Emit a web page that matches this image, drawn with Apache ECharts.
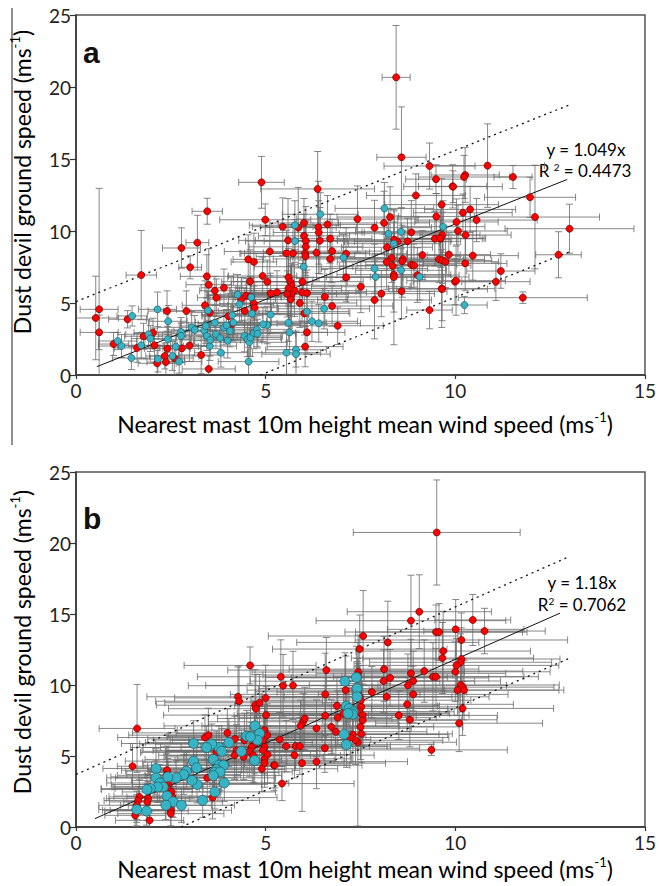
<!DOCTYPE html>
<html>
<head>
<meta charset="utf-8">
<script src="https://cdn.jsdelivr.net/npm/echarts@6/dist/echarts.min.js"></script>
<style>
html,body{margin:0;padding:0;background:#fff;}
#chart{width:659px;height:886px;}
</style>
</head>
<body>
<div id="chart"></div>
<script>
// ---------- DATA: [x, y, xError, yError] ----------
const aRed = [
[0.61,4.56,0.5,8.4],[0.52,3.96,0.6,2.9],[0.61,2.96,0.5,1.2],[1.36,3.87,0.5,0.6],[0.99,2.15,0.4,0.8],
[1.61,1.88,0.6,1.0],[1.72,6.94,0.4,3.1],[1.78,2.69,0.5,0.9],[2.03,2.94,0.5,1.0],[2.07,2.06,0.6,1.2],
[2.14,0.81,0.5,0.9],[2.34,1.32,0.4,0.9],[2.37,0.9,0.5,1.1],[2.4,4.44,0.5,1.4],[2.41,1.83,0.6,1.0],
[2.59,1.18,0.5,1.2],[2.78,8.82,0.5,1.4],[2.79,1.85,0.5,1.0],[2.91,4.44,0.6,1.4],[2.99,2.04,0.5,1.1],
[3.01,7.48,0.3,0.8],[3.2,9.19,0.3,1.9],[3.3,1.39,0.6,1.3],[3.46,11.37,0.4,0.9],[3.45,6.85,0.7,1.5],
[3.5,6.27,0.6,2.5],[3.5,0.42,0.7,0.9],[3.4,4.84,0.6,1.7],[3.53,4.33,0.5,1.2],[3.66,5.85,0.4,1.0],
[3.7,5.37,0.5,1.3],[3.9,6.06,0.6,1.3],[4.02,4.08,0.7,1.6],[4.12,3.56,0.9,1.2],[4.36,5.26,0.9,1.5],
[4.49,5.51,1.0,1.2],[4.6,5.44,0.8,1.4],[4.45,4.44,0.7,1.6],[4.69,4.97,0.9,1.2],[4.71,4.67,0.6,1.8],
[4.59,6.5,0.5,2.2],[4.69,7.85,0.6,2.0],[4.54,8.03,0.4,1.7],[5.04,6.48,1.2,1.5],[5.11,8.58,1.2,1.7],
[4.99,10.78,1.2,1.1],[5.13,5.67,1.0,1.4],[4.92,6.88,0.9,1.3],[4.89,13.38,0.6,1.8],[5.45,10.3,0.8,2.0],
[5.86,10.23,1.0,2.8],[6.01,10.56,0.9,1.7],[6.01,9.66,1.2,1.5],[6.37,12.92,1.5,2.6],[6.39,10.25,1.0,3.2],
[6.4,9.9,1.2,2.2],[6.63,10.46,1.3,2.0],[5.59,9.35,1.3,2.9],[5.72,8.45,1.4,2.0],[5.55,8.45,1.2,1.6],
[6.06,9.3,1.1,2.4],[6.06,8.9,1.5,1.8],[6.04,8.45,1.6,2.2],[6.05,8.24,1.3,1.5],[6.34,8.49,1.4,1.9],
[6.43,9.33,1.7,2.3],[6.7,9.47,1.1,1.7],[6.7,8.06,1.5,1.6],[6.75,8.6,1.3,2.2],[7.12,8.42,1.6,1.8],
[5.6,6.78,1.6,2.0],[5.65,6.48,1.5,1.7],[5.68,6.23,1.8,1.5],[5.6,6.0,1.4,2.6],[5.76,5.86,1.7,1.8],
[5.68,5.58,1.5,2.0],[5.57,5.63,1.3,1.6],[5.66,5.25,1.5,2.3],[5.97,6.48,1.6,1.5],[5.96,5.74,1.7,2.0],
[6.09,5.69,1.4,1.6],[5.3,5.74,1.2,1.5],[5.9,5.0,1.5,1.7],[6.56,5.42,1.5,1.9],[6.75,4.79,1.6,1.4],
[6.9,3.42,1.2,1.3],[6.09,2.96,1.0,1.5],[6.04,1.97,1.0,1.4],[6.02,4.28,1.2,1.5],[7.42,10.83,1.6,2.3],
[7.87,10.23,1.5,1.9],[8.12,10.56,1.2,2.2],[8.28,10.97,1.4,2.1],[8.58,15.12,0.65,3.5],[8.44,20.67,0.37,3.6],
[8.96,12.47,1.3,1.5],[9.32,14.51,1.2,1.6],[9.49,13.6,0.8,1.0],[9.64,11.83,1.5,1.8],[9.5,11.0,1.0,1.6],
[9.93,13.1,0.9,1.5],[8.39,9.4,1.5,2.0],[8.2,8.87,1.2,1.6],[8.48,9.25,1.4,1.8],[8.84,9.91,1.3,2.2],
[8.32,8.13,1.5,1.7],[8.19,7.85,1.3,1.9],[8.62,8.05,1.6,2.0],[8.35,7.57,1.4,1.8],[8.84,7.66,1.2,1.6],
[8.91,7.6,1.5,1.5],[9.13,8.33,1.0,1.7],[9.46,9.47,1.3,1.9],[9.61,9.47,1.1,2.0],[9.57,8.03,1.2,1.6],
[9.66,7.96,1.3,1.6],[9.83,8.36,1.1,1.5],[8.38,6.97,1.5,2.6],[8.38,6.8,1.3,4.7],[8.05,5.65,1.4,1.6],
[7.87,5.21,1.5,2.7],[7.51,6.13,1.3,1.8],[7.12,6.78,1.5,1.7],[8.58,5.81,1.2,1.9],[9.32,4.51,0.6,1.3],
[9.64,6.0,1.4,2.7],[9.99,6.48,1.1,1.6],[10.85,14.54,1.5,2.9],[11.52,13.75,0.5,0.8],[11.97,12.34,1.2,1.4],
[12.1,10.97,1.7,3.6],[13.01,10.16,1.7,1.7],[12.72,8.35,0.6,1.6],[11.78,5.37,1.7,0.4],[11.2,7.22,0.9,1.2],
[11.07,6.48,0.9,1.3],[10.26,13.89,0.9,1.9],[10.23,13.75,1.2,1.5],[9.94,13.08,1.3,1.1],[10.2,11.27,1.3,1.3],
[10.39,11.5,1.2,1.6],[10.56,10.76,1.6,1.5],[10.03,10.63,1.1,1.6],[10.07,10.0,1.3,1.8],[10.27,9.72,1.2,1.6],
[9.65,9.72,1.0,1.6],[9.6,9.5,1.2,1.3],[8.74,9.28,1.4,1.6],[10.46,8.29,1.2,1.7],[9.74,7.87,1.4,1.8],
[10.26,7.75,1.1,1.9],[10.02,6.55,1.3,2.4],[9.65,5.97,1.2,2.2],[9.0,6.94,1.1,1.9],[8.6,7.9,1.5,2.5]
];
const aCyan = [
[1.48,4.1,0.4,0.7],[1.1,2.36,0.5,0.6],[1.2,2.01,0.6,0.8],[1.46,1.18,0.5,0.8],[1.72,2.06,0.6,0.9],
[1.91,2.83,0.6,1.0],[1.96,2.53,0.5,0.9],[2.15,4.56,0.5,1.2],[2.16,1.11,0.7,0.9],[2.42,2.48,0.6,0.9],
[2.43,3.73,0.5,1.1],[2.63,1.97,0.6,0.9],[2.54,1.32,0.7,1.0],[2.72,0.93,0.6,0.8],[2.77,2.99,0.7,1.0],
[2.77,2.71,0.6,0.9],[3.05,3.31,0.9,1.1],[3.13,3.13,0.7,1.0],[3.38,3.08,0.8,1.1],[3.42,3.4,0.7,1.2],
[3.45,2.71,0.8,1.0],[3.48,4.49,0.6,1.3],[3.53,2.01,0.7,1.0],[3.54,2.43,0.8,1.1],[3.66,3.63,0.9,1.2],
[3.69,2.83,0.8,1.0],[3.8,2.57,1.0,1.1],[3.82,1.55,0.7,1.0],[3.9,3.29,0.9,1.2],[3.97,3.45,1.0,1.1],
[4.0,2.38,0.9,1.2],[4.06,3.06,1.0,1.1],[4.12,4.15,0.8,1.3],[4.15,3.64,1.0,1.2],[4.26,5.58,0.8,1.4],
[4.31,4.91,0.9,1.2],[4.44,2.71,1.0,1.1],[4.52,2.48,0.9,1.2],[4.57,2.27,1.0,1.0],[4.6,2.6,0.8,1.3],
[4.64,4.26,1.0,1.2],[4.69,2.92,1.1,1.1],[4.77,3.17,0.9,1.2],[4.79,2.87,1.0,1.0],[4.55,0.93,0.8,1.0],
[4.62,5.4,0.8,1.3],[5.04,3.47,1.0,1.3],[8.13,11.57,1.3,1.8],[8.57,9.95,1.2,1.6],[8.24,9.81,1.3,1.7],
[8.38,9.12,1.2,1.5],[7.87,7.39,1.4,1.7],[7.9,6.81,1.3,1.6],[8.57,7.27,1.2,1.5],[9.06,6.81,1.3,1.6],
[9.68,10.3,1.1,1.8],[6.44,11.16,1.0,1.5],[5.77,10.4,1.2,1.7],[5.77,9.3,1.3,1.5],[7.05,8.15,1.4,1.6],
[6.0,7.52,1.3,1.5],[6.54,4.6,1.2,1.4],[6.09,4.4,1.1,1.3],[5.13,4.19,1.0,1.3],[4.93,3.52,1.0,1.2],
[6.22,3.73,1.2,1.4],[6.4,3.59,1.1,1.3],[5.63,2.96,1.0,1.2],[10.24,4.86,0.6,0.6],[5.55,1.55,0.9,1.5],
[5.8,1.75,0.8,1.2],[5.8,1.45,0.9,1.6],[5.6,3.63,1.0,1.3]
];
const bRed = [
[1.61,6.94,1.0,3.1],[1.49,4.28,0.4,1.6],[1.67,2.12,0.8,1.2],[1.64,1.86,0.9,1.0],[1.6,1.53,1.0,1.0],
[1.6,1.18,0.9,1.1],[1.9,2.0,1.1,1.2],[1.88,1.77,1.0,1.3],[1.56,0.82,0.8,0.8],[1.94,0.47,0.9,0.6],
[2.4,4.0,1.2,1.7],[2.39,3.64,1.3,1.5],[2.43,2.99,1.5,1.6],[2.43,2.71,1.4,1.2],[2.52,2.47,1.3,1.1],
[2.54,2.12,1.2,1.4],[2.5,1.18,1.6,1.1],[2.5,0.94,1.4,1.2],[3.46,3.46,1.8,1.3],[3.6,2.07,1.7,1.5],
[3.66,4.56,1.9,1.6],[3.7,5.25,2.0,1.5],[3.4,6.3,2.3,1.6],[3.49,6.47,2.1,1.9],[3.99,6.63,2.5,1.7],
[4.27,9.17,2.4,2.1],[4.3,8.86,2.2,2.5],[4.59,11.38,1.74,1.3],[4.72,8.58,2.6,2.5],[4.74,8.33,2.3,2.4],
[4.84,8.75,2.5,2.0],[5.0,9.09,2.4,2.3],[5.01,7.88,2.7,2.0],[4.97,6.82,2.3,1.8],[5.04,6.47,2.6,2.2],
[4.94,6.12,2.4,1.7],[4.97,5.63,2.2,1.9],[4.93,5.4,2.5,1.6],[4.97,4.8,2.3,1.8],[4.97,4.5,2.1,1.7],
[4.9,4.1,2.0,1.6],[4.7,5.84,2.6,2.1],[4.63,5.64,2.4,1.7],[4.57,5.33,2.2,1.8],[4.67,5.05,2.3,1.9],
[4.42,4.94,2.1,1.6],[4.23,5.4,2.2,1.8],[4.19,6.2,2.3,1.6],[4.18,5.05,2.0,1.7],[4.44,6.12,2.4,1.9],
[5.22,4.35,2.0,1.8],[5.4,10.58,2.2,2.6],[5.46,9.95,2.5,2.2],[5.72,9.97,2.3,2.4],[5.37,6.16,2.4,1.9],
[5.54,5.69,2.2,1.8],[5.79,5.69,2.5,1.7],[5.9,5.69,2.3,2.0],[5.76,5.06,2.1,1.6],[5.96,4.5,2.2,3.4],
[6.34,4.6,2.4,1.9],[6.56,5.55,2.5,1.7],[5.43,3.06,1.9,1.2],[5.24,4.35,2.3,1.6],[5.05,5.1,2.2,2.0],
[6.6,11.05,2.6,2.3],[6.57,9.34,2.5,2.9],[6.88,8.53,2.7,2.0],[6.57,7.84,2.4,2.1],[6.9,7.7,2.6,1.9],
[7.05,7.98,2.8,1.8],[5.99,7.41,2.5,2.0],[6.03,7.64,2.3,2.2],[5.92,7.13,2.6,1.8],[6.34,6.95,2.5,2.0],
[6.73,7.06,2.7,1.9],[6.85,6.71,2.4,2.1],[7.11,9.64,2.6,2.4],[7.44,10.91,2.8,2.6],[7.43,10.7,2.5,2.3],
[7.43,9.52,2.7,2.0],[7.48,9.17,2.6,2.2],[7.51,8.93,2.9,2.0],[7.52,8.46,2.7,2.1],[7.47,8.11,2.5,1.9],
[7.56,7.87,2.8,2.2],[7.56,7.52,2.6,1.8],[7.5,7.05,2.7,2.3],[7.52,6.56,2.4,2.0],[7.43,5.97,2.6,5.9],
[7.3,6.51,2.5,1.9],[7.37,6.11,2.3,1.7],[7.23,6.3,2.6,1.8],[7.57,13.45,2.5,3.2],[7.48,12.53,2.3,2.4],
[8.22,13.0,2.4,2.9],[9.05,15.16,1.9,2.6],[8.83,14.53,2.5,3.2],[9.49,13.73,2.4,1.9],[9.57,13.73,2.2,2.0],
[10.01,13.92,1.8,2.1],[10.46,14.58,1.0,1.8],[10.77,13.8,1.6,1.6],[10.16,13.17,2.8,1.9],[9.66,11.9,2.4,2.5],
[9.68,12.39,2.3,2.8],[10.16,11.83,2.6,2.2],[10.14,11.6,2.4,2.0],[10.03,11.38,2.7,1.9],[10.0,10.93,2.5,2.1],
[9.18,10.98,2.6,2.2],[9.41,10.58,2.4,2.4],[9.49,10.58,2.7,2.0],[8.83,10.82,2.5,2.4],[8.89,10.28,2.3,2.1],
[8.75,9.98,2.6,2.2],[8.89,9.34,2.5,2.0],[8.73,8.64,2.8,1.9],[8.51,7.86,2.6,1.7],[8.8,7.55,2.3,1.9],
[8.12,11.12,2.5,2.3],[8.28,10.5,2.6,2.0],[8.11,10.28,2.4,2.2],[8.19,9.17,2.7,2.1],[7.8,9.5,2.5,1.8],
[9.37,5.43,2.0,0.4],[10.14,10.0,2.6,1.9],[10.2,9.85,2.4,2.0],[10.06,9.64,2.8,1.8],[10.23,9.64,2.5,2.1],
[10.19,8.35,2.4,1.9],[10.1,7.31,2.2,2.0],[9.51,20.74,2.2,3.7]
];
const bCyan = [
[4.72,7.12,2.4,1.7],[4.84,6.59,2.2,1.9],[4.78,6.12,2.3,1.6],[4.5,6.4,2.1,1.8],[4.6,6.35,2.2,1.7],
[4.36,5.33,2.0,1.5],[4.71,4.69,2.1,1.6],[4.03,5.95,2.2,1.7],[3.77,5.6,2.0,1.5],[3.84,5.33,2.1,1.6],
[3.58,5.85,1.9,1.4],[3.44,5.6,2.0,1.5],[3.62,4.76,1.8,1.4],[3.77,4.35,2.0,1.5],[3.89,4.35,1.9,1.3],
[3.7,4.05,1.8,1.4],[3.65,3.84,1.7,1.5],[3.8,3.88,1.9,1.3],[3.62,3.62,1.8,1.4],[3.91,3.1,1.7,1.3],
[3.66,2.47,1.6,1.2],[3.34,1.88,1.5,1.2],[3.19,3.0,1.7,1.3],[3.1,4.64,1.8,1.5],[3.18,4.17,1.7,1.4],
[3.1,5.88,1.9,1.6],[2.91,3.93,1.6,1.3],[2.84,3.69,1.5,1.4],[2.64,3.46,1.6,1.2],[2.42,3.53,1.5,1.3],
[2.11,4.12,1.4,1.4],[2.11,3.46,1.3,1.2],[2.21,3.1,1.4,1.3],[2.3,2.82,1.3,1.2],[2.15,2.82,1.2,1.1],
[1.96,2.71,1.3,1.2],[1.87,2.64,1.2,1.1],[2.4,2.18,1.4,1.2],[2.56,1.78,1.3,1.1],[2.37,1.53,1.2,1.0],
[2.78,1.53,1.4,1.2],[1.86,1.13,1.1,1.0],[1.6,1.23,1.0,0.9],[3.06,3.28,1.6,1.3],[7.09,10.27,2.5,2.0],
[7.39,10.53,2.4,2.2],[7.41,9.75,2.6,1.9],[7.41,9.17,2.5,2.1],[7.13,8.51,2.4,1.8],[7.2,8.34,2.6,1.9],
[7.31,8.11,2.5,2.0],[7.29,7.94,2.3,1.7],[7.17,7.99,2.4,1.8],[7.07,6.53,2.5,1.9],[7.13,5.8,2.3,1.6]
];
// trend line (y = slope*x) and dotted bound endpoints
const aFit = [[0.55,0.58],[12.95,13.58]];
const aUpper = [[0,5.1],[13.0,18.75]];
const aLower = [[4.86,0],[13.05,8.6]];
const bFit = [[0.5,0.59],[12.76,15.06]];
const bUpper = [[0,3.7],[13.0,19.04]];
const bLower = [[2.77,0],[13.0,11.87]];
const xTicks = [0, 15, 5];   // min, max, interval
const yTicks = [0, 25, 5];
const panelLabels = ['a', 'b'];
const eqA = ['y = 1.049x', '0.4473'];
const eqB = ['y = 1.18x', '0.7062'];
const xTitle = 'Nearest mast 10m height mean wind speed (ms';
const yTitle = 'Dust devil ground speed (ms';

// ---------- CHART ----------
const FONT = 'Lato';
const chart = echarts.init(document.getElementById('chart'), null, {renderer: 'svg'});

function errRender(params, api) {
  const x = api.value(0), y = api.value(1), xe = api.value(2), ye = api.value(3);
  const l = api.coord([x - xe, y]), r = api.coord([x + xe, y]);
  const t = api.coord([x, y + ye]), b = api.coord([x, y - ye]);
  const cap = 3.5;
  const st = {stroke: '#6a6a6a', lineWidth: 1, opacity: 0.8};
  const ln = (x1, y1, x2, y2) => ({type: 'line', shape: {x1, y1, x2, y2}, style: st});
  return {type: 'group', children: [
    ln(l[0], l[1], r[0], r[1]),
    ln(l[0], l[1] - cap, l[0], l[1] + cap),
    ln(r[0], r[1] - cap, r[0], r[1] + cap),
    ln(t[0], t[1], b[0], b[1]),
    ln(t[0] - cap, t[1], t[0] + cap, t[1]),
    ln(b[0] - cap, b[1], b[0] + cap, b[1])
  ]};
}

function xAxisOf(gi) {
  return {
    gridIndex: gi, type: 'value', min: xTicks[0], max: xTicks[1], interval: xTicks[2],
    axisLine: {show: true, onZero: false, lineStyle: {color: '#333', width: 1.5}},
    axisTick: {show: true, inside: false, length: 4, lineStyle: {color: '#333', width: 1.2}},
    axisLabel: {fontFamily: FONT, fontSize: 19, color: '#222', margin: 6},
    splitLine: {show: false}
  };
}
function yAxisOf(gi) {
  return {
    gridIndex: gi, type: 'value', min: yTicks[0], max: yTicks[1], interval: yTicks[2],
    axisLine: {show: true, onZero: false, lineStyle: {color: '#333', width: 1.5}},
    axisTick: {show: true, inside: false, length: 6, lineStyle: {color: '#333', width: 1.2}},
    axisLabel: {fontFamily: FONT, fontSize: 19, color: '#222', margin: 5},
    splitLine: {show: false}
  };
}
function errSeries(data, gi) {
  return {type: 'custom', xAxisIndex: gi, yAxisIndex: gi, renderItem: errRender, clip: true,
    encode: {x: 0, y: 1}, data: data, silent: true, z: 1};
}
function ptSeries(data, gi, color, border, size) {
  return {type: 'scatter', xAxisIndex: gi, yAxisIndex: gi, data: data.map(d => [d[0], d[1]]),
    symbolSize: size, itemStyle: {color: color, borderColor: border, borderWidth: 0.7, opacity: 1}, z: 3};
}
function lineSeries(data, gi, dashed) {
  return {type: 'line', xAxisIndex: gi, yAxisIndex: gi, data: data, showSymbol: false, symbol: 'none',
    lineStyle: {color: '#111', width: dashed ? 1.3 : 1, type: dashed ? [2, 4] : 'solid'}, z: 2, silent: true};
}

const RED = '#ff0000', RED_B = '#6b0000', CY = '#36b3c4', CY_B = '#1c5d68';
const titleRich = {
  t: {fontFamily: FONT, fontSize: 23, color: '#111', lineHeight: 27},
  s: {fontFamily: FONT, fontSize: 13, color: '#111', lineHeight: 13, verticalAlign: 'top'}
};
const eqRich = {
  t: {fontFamily: FONT, fontSize: 17, color: '#111', lineHeight: 17},
  s: {fontFamily: FONT, fontSize: 10, color: '#111', lineHeight: 10, verticalAlign: 'top'}
};

chart.setOption({
  animation: false,
  grid: [
    {left: 76, top: 15, width: 573, height: 360, show: true, borderColor: '#555', borderWidth: 1.5, backgroundColor: 'transparent'},
    {left: 76, top: 472, width: 573, height: 355, show: true, borderColor: '#555', borderWidth: 1.5, backgroundColor: 'transparent'}
  ],
  xAxis: [xAxisOf(0), xAxisOf(1)],
  yAxis: [yAxisOf(0), yAxisOf(1)],
  series: [
    errSeries(aRed, 0), errSeries(aCyan, 0),
    lineSeries(aFit, 0, false), lineSeries(aUpper, 0, true), lineSeries(aLower, 0, true),
    ptSeries(aRed, 0, RED, RED_B, 7), ptSeries(aCyan, 0, CY, CY_B, 7),
    errSeries(bRed, 1), errSeries(bCyan, 1),
    lineSeries(bFit, 1, false), lineSeries(bUpper, 1, true), lineSeries(bLower, 1, true),
    ptSeries(bRed, 1, RED, RED_B, 7), ptSeries(bCyan, 1, CY, CY_B, 10)
  ],
  graphic: [
    {type: 'line', shape: {x1: 12, y1: 8, x2: 12, y2: 445}, style: {stroke: '#444', lineWidth: 1.2}},
    {type: 'text', x: 83, y: 37, style: {text: panelLabels[0], font: 'bold 30px "Liberation Sans"', fill: '#111', textVerticalAlign: 'alphabetic'}},
    {type: 'text', x: 83, y: 503, style: {text: panelLabels[1], font: 'bold 30px "Liberation Sans"', fill: '#111', textVerticalAlign: 'alphabetic'}},
    // axis titles
    {type: 'text', x: 22, y: 182, rotation: Math.PI / 2,
      style: {text: '{t|' + yTitle + '}{s|-1}{t|)}', rich: titleRich, align: 'center', verticalAlign: 'middle'}},
    {type: 'text', x: 22, y: 642, rotation: Math.PI / 2,
      style: {text: '{t|' + yTitle + '}{s|-1}{t|)}', rich: titleRich, align: 'center', verticalAlign: 'middle'}},
    {type: 'text', x: 365, y: 424,
      style: {text: '{t|' + xTitle + '}{s|-1}{t|)}', rich: titleRich, align: 'center', verticalAlign: 'middle'}},
    {type: 'text', x: 365, y: 869,
      style: {text: '{t|' + xTitle + '}{s|-1}{t|)}', rich: titleRich, align: 'center', verticalAlign: 'middle'}},
    // regression annotations
    {type: 'text', x: 586, y: 149, style: {text: '{t|' + eqA[0] + '}', rich: eqRich, align: 'center', verticalAlign: 'middle'}},
    {type: 'text', x: 585, y: 170, style: {text: '{t|R }{s|2}{t| = ' + eqA[1] + '}', rich: eqRich, align: 'center', verticalAlign: 'middle'}},
    {type: 'text', x: 582, y: 582, style: {text: '{t|' + eqB[0] + '}', rich: eqRich, align: 'center', verticalAlign: 'middle'}},
    {type: 'text', x: 582, y: 604, style: {text: '{t|R}{s|2}{t| = ' + eqB[1] + '}', rich: eqRich, align: 'center', verticalAlign: 'middle'}}
  ]
});
</script>
</body>
</html>
